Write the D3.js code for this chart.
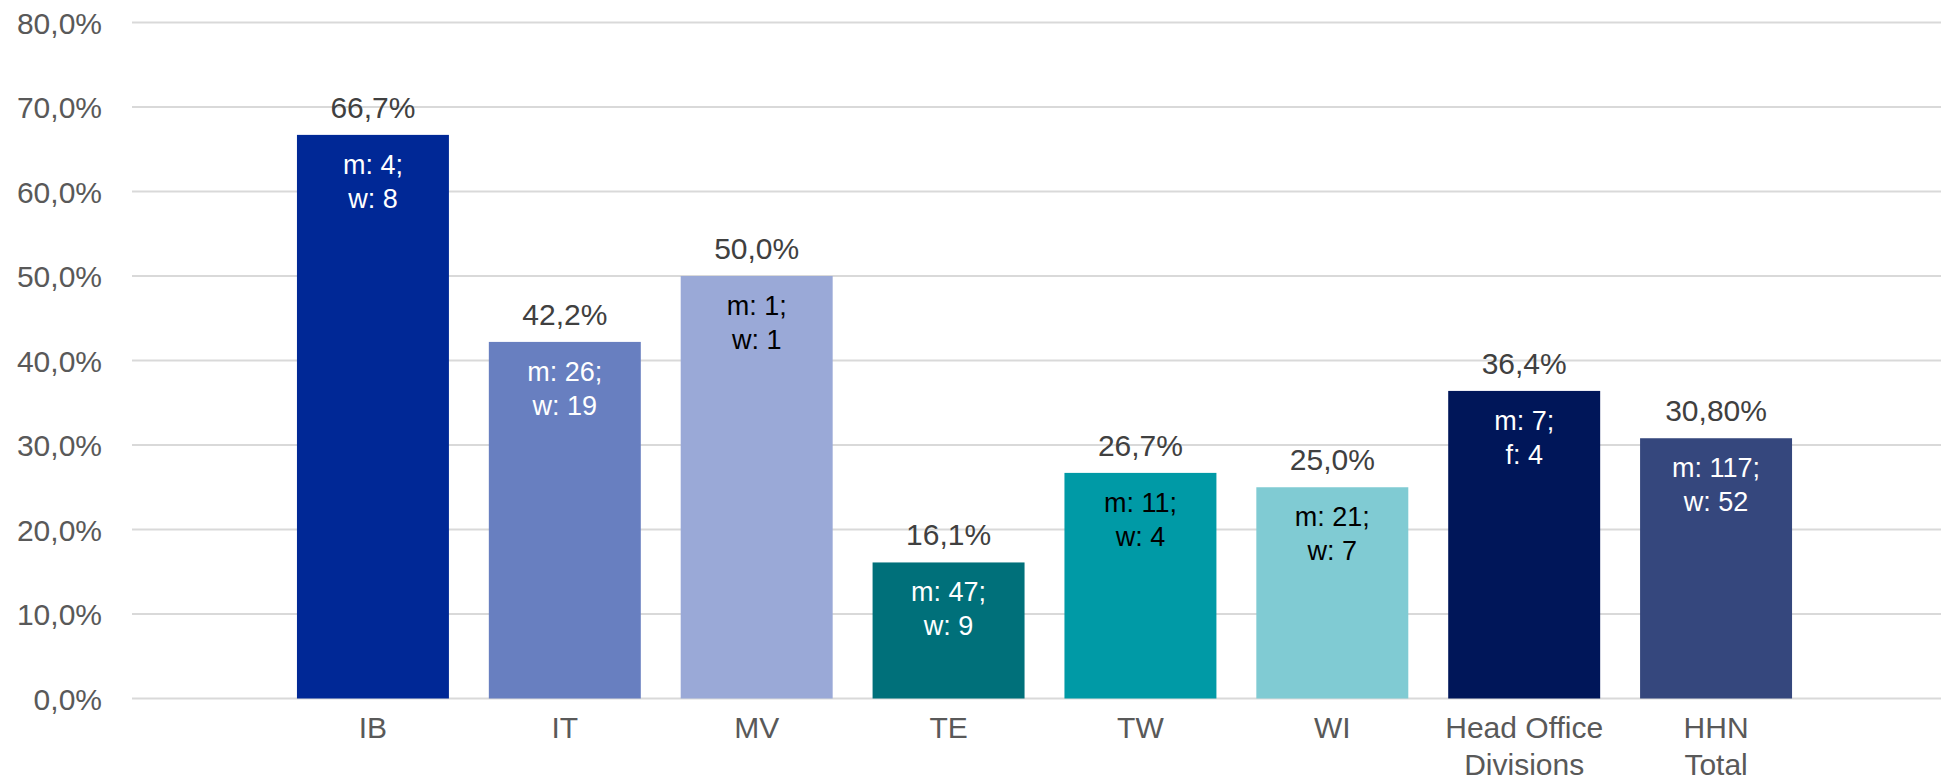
<!DOCTYPE html>
<html>
<head>
<meta charset="utf-8">
<script src="https://cdn.jsdelivr.net/npm/d3@7"></script>
<style>
  body { margin: 0; background: #fff; }
  text { font-family: "Liberation Sans", Arial, sans-serif; }
</style>
</head>
<body>
<div id="chart"></div>
<script>
// data
let categories = ["IB", "IT", "MV", "TE", "TW", "WI", "Head Office Divisions", "HHN Total"];
let catLines = [["IB"], ["IT"], ["MV"], ["TE"], ["TW"], ["WI"], ["Head Office", "Divisions"], ["HHN", "Total"]];
let values = [66.7, 42.2, 50.0, 16.1, 26.7, 25.0, 36.4, 30.8];
let valueLabels = ["66,7%", "42,2%", "50,0%", "16,1%", "26,7%", "25,0%", "36,4%", "30,80%"];
let innerLabels = [["m: 4;", "w: 8"], ["m: 26;", "w: 19"], ["m: 1;", "w: 1"], ["m: 47;", "w: 9"],
                   ["m: 11;", "w: 4"], ["m: 21;", "w: 7"], ["m: 7;", "f: 4"], ["m: 117;", "w: 52"]];
let yTicks = [0, 10, 20, 30, 40, 50, 60, 70, 80];

let colors = ["#002896", "#687fc0", "#9aa9d7", "#00707a", "#009aa6", "#80cbd3", "#001659", "#35477d"];
let innerColors = ["#fff", "#fff", "#000", "#fff", "#000", "#000", "#fff", "#fff"];

let W = 1941, H = 780;

let svg = d3.select("#chart")
  .append("svg")
  .attr("width", W)
  .attr("height", H);

let y = d3.scaleLinear()
  .domain([0, 80])
  .range([698.5, 22.5]);

let x = d3.scaleBand()
  .domain(categories)
  .range([277, 1812])
  .paddingInner(0.208)
  .paddingOuter(0.104);

// gridlines
svg.append("g")
  .selectAll("line")
  .data(yTicks)
  .enter()
  .append("line")
  .attr("x1", 132)
  .attr("x2", W)
  .attr("y1", d => y(d))
  .attr("y2", d => y(d))
  .attr("stroke", "#d9d9d9")
  .attr("stroke-width", 2);

// y axis labels
let yAxis = svg.append("g")
  .attr("transform", "translate(102,0)")
  .call(d3.axisLeft(y).tickValues(yTicks).tickSize(0).tickPadding(0)
    .tickFormat(d => d3.format(".1f")(d).replace(".", ",") + "%"));
yAxis.select(".domain").remove();
yAxis.selectAll("text")
  .attr("font-size", "30px")
  .attr("font-family", "Liberation Sans, Arial, sans-serif")
  .attr("fill", "#595959")
  .attr("dy", "0.36em");

// bars
svg.append("g")
  .selectAll("rect")
  .data(categories)
  .enter()
  .append("rect")
  .attr("x", d => x(d))
  .attr("y", (d, i) => y(values[i]))
  .attr("width", x.bandwidth())
  .attr("height", (d, i) => y(0) - y(values[i]))
  .attr("fill", (d, i) => colors[i]);

// value labels above bars
svg.append("g")
  .selectAll("text")
  .data(categories)
  .enter()
  .append("text")
  .attr("x", d => x(d) + x.bandwidth() / 2)
  .attr("y", (d, i) => y(values[i]) - 17)
  .attr("text-anchor", "middle")
  .attr("font-size", "30px")
  .attr("fill", "#404040")
  .text((d, i) => valueLabels[i]);

// counts inside bars
let inner = svg.append("g")
  .selectAll("text")
  .data(categories)
  .enter()
  .append("text")
  .attr("text-anchor", "middle")
  .attr("font-size", "27px")
  .attr("fill", (d, i) => innerColors[i]);
inner.each(function(d, i) {
  let cx = x(d) + x.bandwidth() / 2;
  d3.select(this).selectAll("tspan")
    .data(innerLabels[i])
    .enter()
    .append("tspan")
    .attr("x", cx)
    .attr("y", (t, j) => y(values[i]) + 39 + j * 34)
    .text(t => t);
});

// category labels
let xl = svg.append("g")
  .selectAll("text")
  .data(categories)
  .enter()
  .append("text")
  .attr("text-anchor", "middle")
  .attr("font-size", "30px")
  .attr("fill", "#595959");
xl.each(function(d, i) {
  let cx = x(d) + x.bandwidth() / 2;
  d3.select(this).selectAll("tspan")
    .data(catLines[i])
    .enter()
    .append("tspan")
    .attr("x", cx)
    .attr("y", (t, j) => 738 + j * 37)
    .text(t => t);
});
</script>
</body>
</html>
